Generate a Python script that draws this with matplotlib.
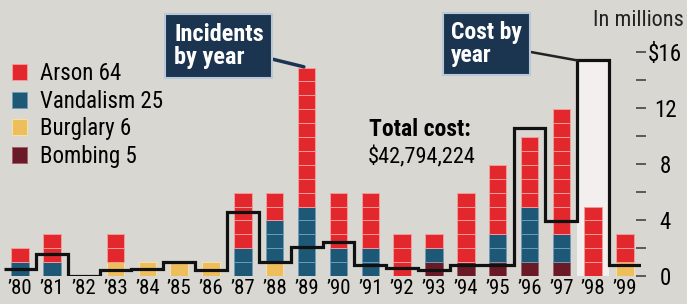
import numpy as np
import matplotlib
matplotlib.use("Agg")
import matplotlib.pyplot as plt
from matplotlib.ticker import FixedLocator, FuncFormatter

# ---------------- data ----------------
years = ["’80", "’81", "’82", "’83", "’84", "’85", "’86", "’87", "’88", "’89",
         "’90", "’91", "’92", "’93", "’94", "’95", "’96", "’97", "’98", "’99"]
arson     = [1, 2, 0, 2, 0, 0, 0, 4, 2, 10, 4, 4, 3, 1, 5, 5, 5, 9, 5, 2]
vandalism = [1, 1, 0, 0, 0, 0, 0, 2, 3, 5, 2, 2, 0, 1, 0, 2, 4, 2, 0, 0]
burglary  = [0, 0, 0, 1, 1, 1, 1, 0, 1, 0, 0, 0, 0, 0, 0, 0, 0, 0, 0, 1]
bombing   = [0, 0, 0, 0, 0, 0, 0, 0, 0, 0, 0, 0, 0, 1, 1, 1, 1, 1, 0, 0]
cost_millions = [0.5, 1.6, 0.0, 0.45, 0.5, 1.0, 0.45, 4.6, 1.0, 2.1,
                 2.4, 0.8, 0.55, 0.4, 0.8, 0.8, 10.6, 3.9, 15.4, 0.8]
total_cost = 42794224
cost_ticks = [0, 4, 8, 12, 16]

# stacking order bottom -> top
series = [("Bombing", bombing, "#6a1a26", "#a06070"),
          ("Burglary", burglary, "#efbe5c", "#f8e0a8"),
          ("Vandalism", vandalism, "#1e5877", "#6f9bb5"),
          ("Arson", arson, "#e2282d", "#f59a9a")]

BG = "#d9d7d2"
NAVY = "#1b3550"
FONT = ["Roboto Condensed", "Liberation Sans Narrow", "Liberation Sans", "DejaVu Sans"]
plt.rcParams["font.family"] = FONT

W, H = 687, 304
fig = plt.figure(figsize=(W / 100, H / 100), dpi=100, facecolor=BG)
rect = [4 / W, 28 / H, (641 - 4) / W, 1 - 28 / H]
ax = fig.add_axes(rect)
ax_bg = ax.twinx()
ax_line = ax.twinx()
ax_bg.set_zorder(0)
ax.set_zorder(1)
ax_line.set_zorder(2)
ax_bg.patch.set_facecolor(BG)
ax.patch.set_visible(False)
ax_line.patch.set_visible(False)

x = np.arange(len(years))
unit_ylim = 276 / 13.9
cost_ylim = 276 / 14.0

# ---- unit-square stacked bars ----
base = np.zeros(len(years))
handles = {}
for name, vals, col, edge in series:
    vals = np.asarray(vals)
    xs = np.repeat(x, vals)
    bottoms = np.concatenate([base[i] + np.arange(v) for i, v in enumerate(vals)])
    cont = ax.bar(xs, 1, bottom=bottoms, width=0.55, color=col,
                  edgecolor=edge, linewidth=0.7)
    handles[name] = cont
    base += vals

ax.set_xlim(-0.5, len(years) - 0.5)
ax.set_ylim(0, unit_ylim)
ax.set_xticks(x)
ax.set_xticklabels(years, fontsize=15)
ax.tick_params(axis="x", length=0, pad=2)
ax.tick_params(axis="y", left=False, labelleft=False)
for a in (ax, ax_bg, ax_line):
    for s in a.spines.values():
        s.set_visible(False)

# ---- highlighted cost box (behind bars) ----
hi = int(np.argmax(cost_millions))
ax_bg.set_ylim(0, cost_ylim)
ax_bg.bar(x[hi], cost_millions[hi], width=1.0, color="#f3efef", linewidth=0)
ax_bg.yaxis.set_visible(False)

# ---- cost step line ----
edges = np.arange(len(years) + 1) - 0.5
ax_line.stairs(cost_millions, edges, baseline=None, color="#111111", linewidth=2.3)
ax_line.set_ylim(0, cost_ylim)
ax_line.yaxis.set_major_locator(FixedLocator(cost_ticks))
ax_line.yaxis.set_minor_locator(FixedLocator([2, 6, 10, 14]))
ax_line.yaxis.set_major_formatter(
    FuncFormatter(lambda v, p: f"${v:.0f}" if v == max(cost_ticks) else f"{v:.0f}"))
ax_line.tick_params(axis="y", which="both", direction="inout", length=7,
                    width=1.2, color="#444444", labelsize=16.5, pad=14)
for t in ax_line.get_yticklabels():
    t.set_ha("center")

# ---- legend ----
order = ["Arson", "Vandalism", "Burglary", "Bombing"]
data_by = {n: v for n, v, c, e in series}
leg = ax.legend([handles[n] for n in order],
                [f"{n} {int(np.sum(data_by[n]))}" for n in order],
                loc="upper left", bbox_to_anchor=(12 / W, 1 - 62 / H),
                bbox_transform=fig.transFigure, frameon=False, fontsize=16.5,
                handlelength=0.65, handleheight=0.7, handletextpad=0.55,
                labelspacing=0.2, borderpad=0, borderaxespad=0)

# ---- total cost ----
fig.text(369 / W, 1 - 118 / H, "Total cost:", fontsize=17, fontweight="bold",
         va="top", ha="left")
fig.text(368 / W, 1 - 146 / H, f"${total_cost:,}", fontsize=16, va="top", ha="left")

# ---- units label ----
fig.text(684 / W, 1 - 21 / H, "In millions", fontsize=16, ha="right", va="center",
         color="#222222")

# ---- callouts ----
box = dict(boxstyle="square,pad=0.35", facecolor=NAVY, edgecolor="#b8c8d8", linewidth=1.5)
ax.annotate("Incidents\nby year", xy=(x[int(np.argmax(base))], base.max()),
            xytext=(174, H - 46), textcoords="figure pixels",
            fontsize=17.5, fontweight="bold", color="white", ha="left", va="center",
            linespacing=1.0, bbox=box,
            arrowprops=dict(arrowstyle="-", color=NAVY, lw=2.5, shrinkA=0, shrinkB=2))
ax_line.annotate("Cost by\nyear", xy=(x[hi] - 0.5, cost_millions[hi]),
                 xytext=(451, H - 44), textcoords="figure pixels",
                 fontsize=17, fontweight="bold", color="white", ha="left", va="center",
                 linespacing=1.0, bbox=box,
                 arrowprops=dict(arrowstyle="-", color="#222222", lw=1.8, shrinkA=0, shrinkB=0))

fig.savefig("out.png", dpi=100, facecolor=BG)
